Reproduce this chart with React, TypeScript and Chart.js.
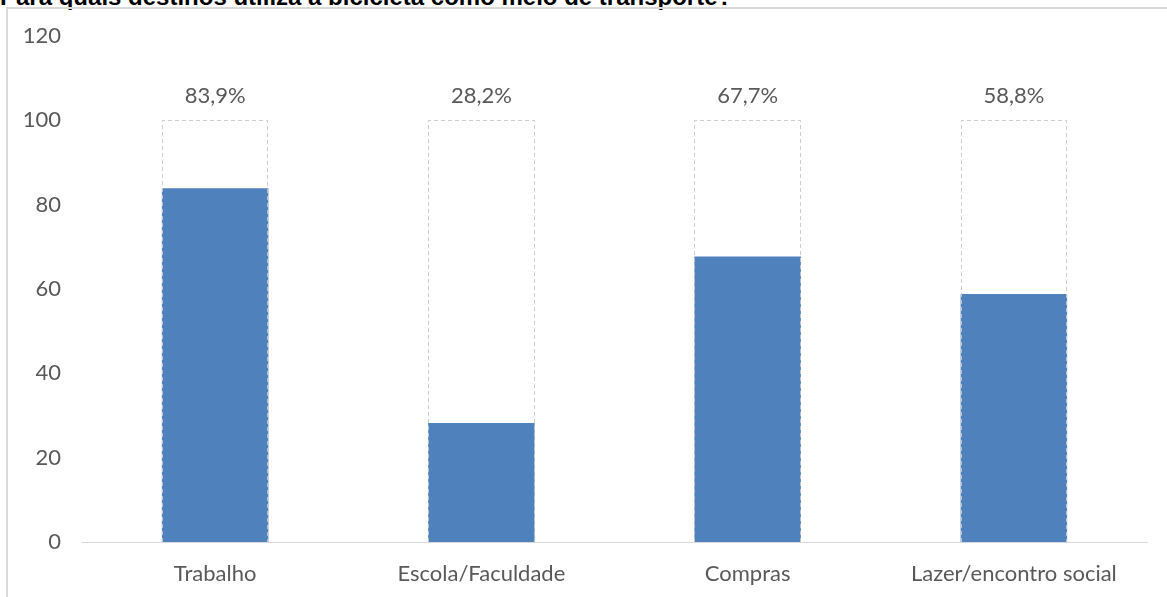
import React, { useEffect, useRef } from "react";
import { Chart, registerables } from "chart.js";

Chart.register(...registerables);

const title = "Para quais destinos utiliza a bicicleta como meio de transporte?";
const categories = ["Trabalho", "Escola/Faculdade", "Compras", "Lazer/encontro social"];
const values = [83.9, 28.2, 67.7, 58.8];
const totals = [100, 100, 100, 100];
const valueLabels = ["83,9%", "28,2%", "67,7%", "58,8%"];

const FONT = "Lato, 'Open Sans', sans-serif";
const GRAY = "#595959";
const BLUE = "#4F81BD";

export default function App() {
  const ref = useRef<HTMLCanvasElement>(null);

  useEffect(() => {
    if (!ref.current) return;
    const outlinePlugin = {
      id: "outlineAndLabels",
      afterDatasetsDraw(chart: any) {
        const ctx = chart.ctx;
        const meta = chart.getDatasetMeta(1);
        ctx.save();
        meta.data.forEach((bar: any, i: number) => {
          const { x, y, base, width } = bar.getProps(["x", "y", "base", "width"], true);
          const l = Math.round(x - width / 2) + 0.5;
          const r = Math.round(x + width / 2) - 0.5;
          const t = Math.round(y) + 0.5;
          const b = Math.round(base);
          ctx.strokeStyle = "rgba(200,200,200,0.9)";
          ctx.lineWidth = 1;
          ctx.setLineDash([4, 3]);
          ctx.beginPath();
          ctx.moveTo(l, b);
          ctx.lineTo(l, t);
          ctx.lineTo(r, t);
          ctx.lineTo(r, b);
          ctx.stroke();
          ctx.setLineDash([]);
          ctx.fillStyle = GRAY;
          ctx.font = `22px ${FONT}`;
          ctx.textAlign = "center";
          ctx.textBaseline = "middle";
          ctx.fillText(valueLabels[i], x, y - 24);
        });
        ctx.restore();
      },
    };

    const chart = new Chart(ref.current, {
      type: "bar",
      data: {
        labels: categories,
        datasets: [
          {
            label: "Valor",
            data: values,
            backgroundColor: BLUE,
            borderWidth: 0,
            grouped: false,
            order: 1,
            barPercentage: 0.4,
            categoryPercentage: 1,
          } as any,
          {
            label: "Total",
            data: totals,
            backgroundColor: "rgba(0,0,0,0)",
            borderWidth: 0,
            grouped: false,
            order: 0,
            barPercentage: 0.4,
            categoryPercentage: 1,
          } as any,
        ],
      },
      options: {
        responsive: false,
        animation: false,
        devicePixelRatio: 1,
        layout: { padding: { top: 36, right: 20, left: 0, bottom: 0 } },
        plugins: {
          legend: { display: false },
          tooltip: { enabled: false },
          title: { display: false },
        },
        scales: {
          x: {
            grid: { display: false },
            border: { display: true, color: "#d9d9d9", width: 1 },
            ticks: {
              color: GRAY,
              font: { family: FONT, size: 22 },
              padding: 11,
              maxRotation: 0,
              autoSkip: false,
            },
            afterFit: (s: any) => {
              s.height = 55;
            },
          },
          y: {
            min: 0,
            max: 120,
            grid: { display: false },
            border: { display: false },
            ticks: {
              stepSize: 20,
              color: GRAY,
              font: { family: FONT, size: 22 },
              padding: 13,
            },
            afterFit: (s: any) => {
              s.width = 82;
            },
          },
        },
      },
      plugins: [outlinePlugin],
    });
    return () => chart.destroy();
  }, []);

  return (
    <div
      style={{
        position: "fixed",
        left: 0,
        top: 0,
        width: 1167,
        height: 597,
        background: "#fff",
        overflow: "hidden",
      }}
    >
      <div
        style={{
          position: "absolute",
          left: 0,
          top: -13,
          fontFamily: "'Liberation Sans', Arial, sans-serif",
          fontWeight: "bold",
          fontSize: 24,
          lineHeight: "20px",
          whiteSpace: "nowrap",
          color: "#000",
        }}
      >
        {title}
      </div>
      <div
        style={{
          position: "absolute",
          left: 6,
          top: 7,
          width: 1167,
          height: 600,
          borderLeft: "2px solid #d9d9d9",
          borderTop: "2px solid #d9d9d9",
        }}
      />
      <canvas
        ref={ref}
        width={1167}
        height={597}
        style={{ position: "absolute", left: 0, top: 0, width: 1167, height: 597 }}
      />
    </div>
  );
}
